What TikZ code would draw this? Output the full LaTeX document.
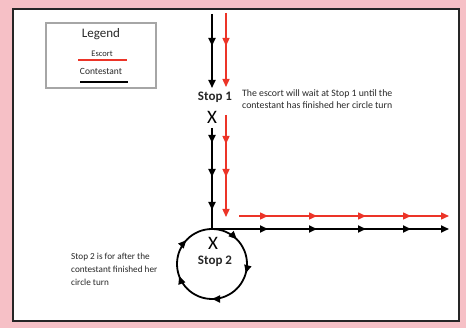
\documentclass[tikz,border=0pt]{standalone}
\usepackage{fontspec}
\setmainfont{Carlito}
\usetikzlibrary{arrows.meta,decorations.markings}

\definecolor{pinkbg}{RGB}{246,192,198}
\definecolor{escortred}{RGB}{236,52,40}
\definecolor{notegray}{RGB}{40,40,40}

\tikzset{
  contestant/.style={draw=black,line width=1.8pt},
  escort/.style={draw=escortred,line width=1.4pt},
  endtip/.style={-{Triangle[width=7pt,length=8pt]}},
  tipat/.style={postaction={decorate,decoration={markings,
      mark=at position #1 with {\arrow{Triangle[width=7pt,length=8pt]}}}}},
  note/.style={inner sep=0pt,anchor=west,align=left,text=notegray,
      font=\fontsize{9.8}{12.3}\selectfont},
  stoplabel/.style={inner sep=0pt,text=notegray,font=\fontsize{13}{15}\selectfont\bfseries},
  xmark/.style={inner sep=0pt,font=\fontsize{19}{20}\selectfont}
}

\begin{document}
\begin{tikzpicture}[x=1pt,y=-1pt]
    % background and panel
    \fill [pinkbg] (0,0) rectangle (466,328);
    \draw [line width=2pt,draw=black!85,fill=white] (13,9) rectangle (459,321);

    % legend
    \draw [gray!70,line width=1.2pt] (46,23) rectangle (156,88);
    \node [inner sep=0pt,text=notegray,font=\fontsize{13}{14}\selectfont] (legend) at (101,34) {Legend};
    \node [inner sep=0pt,text=notegray,font=\fontsize{8.5}{9}\selectfont] (escortkey) at (102,54) {Escort};
    \draw [escort] (78,60) -- (127,60);
    \node [inner sep=0pt,text=notegray,font=\fontsize{9.5}{10}\selectfont] (contestantkey) at (101,71) {Contestant};
    \draw [contestant] (80,82) -- (128,82);

    % stops
    \node [stoplabel] (stopone) at (215,97) {Stop 1};
    \node [xmark] (xone) at (212,117) {X};
    \coordinate (ctop) at (212,229);
    \coordinate (ccenter) at (212,264);
    \node [xmark] (xtwo) at (213,243) {X};
    \node [stoplabel] (stoptwo) at (215,261) {Stop 2};

    % contestant route
    \coordinate (bstart) at (212,14);
    \coordinate (bstop) at (212,88);
    \coordinate (bgo) at (212,128);
    \coordinate (bend) at (449,229);
    \draw [contestant,endtip,tipat=32pt] (bstart) -- (bstop);
    \draw [contestant,tipat/.list={15pt,49pt,82pt}] (bgo) -- (ctop);
    \draw [contestant,endtip,tipat/.list={56pt,105pt,154pt,199pt}] (ctop) -- (bend);
    \draw [contestant,tipat/.list={0.042,0.25,0.444,0.619,0.875}] (ccenter) circle [radius=35];

    % escort route
    \coordinate (rstart) at (226,13);
    \coordinate (rstop) at (226,87);
    \coordinate (rgo) at (226,115);
    \coordinate (rturn) at (226,217);
    \coordinate (rright) at (239,216);
    \coordinate (rend) at (449,216);
    \draw [escort,endtip,tipat=33pt] (rstart) -- (rstop);
    \draw [escort,endtip,tipat/.list={29pt,62pt}] (rgo) -- (rturn);
    \draw [escort,endtip,tipat/.list={29pt,78pt,127pt,172pt}] (rright) -- (rend);

    % notes
    \node [note] (waitnote) at (242,99) {The escort will wait at Stop 1 until the\\contestant has finished her circle turn};
    \node [note,font=\fontsize{9.2}{13}\selectfont] (circlenote) at (71,269) {Stop 2 is for after the\\contestant finished her\\circle turn};
\end{tikzpicture}
\end{document}
